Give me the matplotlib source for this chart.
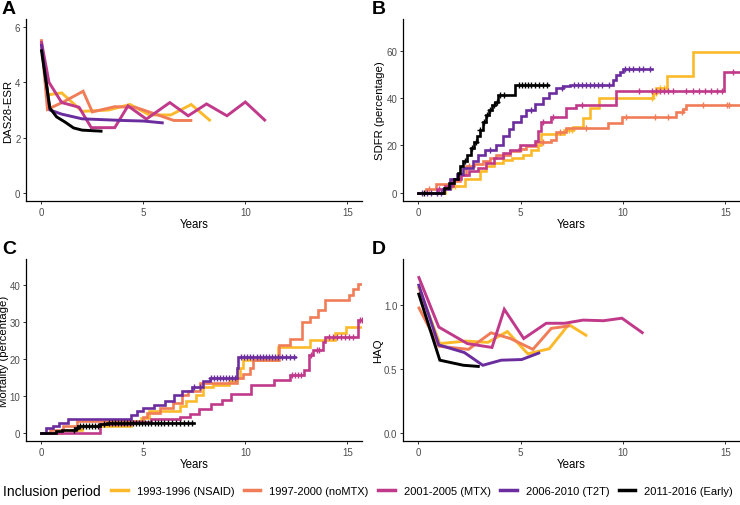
import numpy as np
import matplotlib
matplotlib.use("Agg")
import matplotlib.pyplot as plt
from matplotlib.lines import Line2D

plt.rcParams['font.family'] = ['Liberation Sans', 'DejaVu Sans']

periods = ["1993-1996 (NSAID)", "1997-2000 (noMTX)", "2001-2005 (MTX)",
           "2006-2010 (T2T)", "2011-2016 (Early)"]
colors = ["#FCBA2B", "#F07D57", "#C0398A", "#6B2C9E", "#000000"]

# ---------------- Panel A: DAS28-ESR ----------------
a_x_nsaid = [0, 0.33, 1.0, 2.0, 3.3, 4.35, 5.3, 6.35, 7.35, 8.3]
a_y_nsaid = [5.45, 3.55, 3.62, 2.95, 3.0, 3.2, 2.82, 2.82, 3.2, 2.6]
a_x_nomtx = [0, 0.3, 1.1, 2.05, 2.5, 3.6, 4.6, 5.4, 6.5, 7.4]
a_y_nomtx = [5.57, 3.02, 3.3, 3.68, 2.93, 3.12, 3.1, 2.9, 2.62, 2.62]
a_x_mtx = [0, 0.38, 1.0, 1.85, 2.45, 3.6, 4.25, 5.15, 6.3, 7.2, 8.1, 9.1, 10.0, 11.0]
a_y_mtx = [5.5, 4.0, 3.27, 3.1, 2.36, 2.36, 3.15, 2.67, 3.27, 2.79, 3.22, 2.79, 3.29, 2.6]
a_x_t2t = [0, 0.42, 1.0, 2.0, 3.0, 4.0, 5.0, 6.0]
a_y_t2t = [5.4, 3.0, 2.85, 2.68, 2.65, 2.62, 2.6, 2.53]
a_x_early = [0, 0.42, 0.75, 1.17, 1.58, 2.0, 3.0]
a_y_early = [5.2, 3.07, 2.75, 2.56, 2.35, 2.27, 2.23]

# ---------------- Panel B: SDFR (cumulative, percentage) ----------------
b_t_nsaid = [0, 1.3, 2.3, 3.0, 3.3, 3.7, 4.15, 4.6, 5.1, 5.5, 5.85, 6.0, 7.1, 7.55,
             8.05, 8.38, 8.85, 11.47, 11.63, 12.13, 13.43]
b_v_nsaid = [0, 2.8, 5.6, 9.1, 11.2, 12.6, 14.0, 14.7, 16.1, 18.2, 20.3, 24.8, 26.6,
             28.0, 31.5, 35.7, 39.9, 42.0, 44.1, 49.2, 59.5]
b_end_nsaid = 15.75
b_c_nsaid = [1.5, 1.65, 1.8, 7.35, 7.5, 11.4, 11.5, 11.6, 11.8, 12.0]

b_t_nomtx = [0, 0.39, 0.88, 1.6, 2.02, 2.35, 2.7, 3.16, 3.5, 3.81, 4.46, 4.9, 5.28,
             5.77, 6.5, 6.75, 7.24, 9.27, 9.93, 12.6, 12.94, 13.07]
b_v_nomtx = [0, 1.4, 3.5, 5.0, 7.7, 11.2, 12.0, 13.3, 14.7, 16.1, 17.5, 18.5, 19.6,
             21.4, 22.4, 25.5, 27.3, 29.4, 32.2, 34.3, 35.4, 37.3]
b_end_nomtx = 15.75
b_c_nomtx = [0.5, 2.5, 4.2, 5.0, 6.1, 6.9, 8.2, 10.14, 11.56, 12.2, 12.9, 13.9, 15.1, 15.2]

b_t_mtx = [0, 0.9, 1.3, 1.7, 2.1, 2.5, 2.9, 3.3, 3.7, 4.14, 4.5, 4.95, 5.69, 5.85,
           6.0, 6.5, 7.24, 7.72, 9.68, 14.95]
b_v_mtx = [0, 1.4, 3.0, 5.6, 7.5, 9.1, 10.5, 12.6, 14.7, 16.8, 18.2, 20.3, 22.0, 26.0,
           30.1, 32.2, 35.7, 37.3, 42.9, 51.1]
b_end_mtx = 15.75
b_c_mtx = [1.0, 6.1, 6.6, 8.0, 10.8, 11.4, 11.6, 11.8, 12.0, 12.2, 12.45, 13.1, 13.4,
           13.7, 14.0, 14.3, 14.6, 14.85, 15.4]

b_t_t2t = [0, 1.2, 1.53, 1.9, 2.2, 2.67, 2.9, 3.24, 3.81, 4.14, 4.45, 4.63, 5.0, 5.28,
           5.7, 6.09, 6.4, 6.75, 7.05, 7.4, 9.5, 9.68, 9.85, 10.0]
b_v_t2t = [0, 1.4, 5.6, 8.0, 10.5, 13.3, 16.0, 18.2, 20.3, 23.8, 27.0, 30.1, 32.5, 35.0,
           37.5, 39.9, 42.0, 44.3, 45.0, 45.7, 47.5, 49.6, 51.0, 52.2]
b_end_t2t = 11.4
b_c_t2t = [0.2, 0.4, 0.6, 0.9, 1.1, 3.5, 5.5, 7.0, 7.6, 7.8, 8.0, 8.2, 8.4, 8.6, 8.8,
           9.0, 9.3, 10.1, 10.3, 10.5, 10.8, 11.0, 11.3]

b_t_early = [0, 1.25, 1.5, 1.75, 1.95, 2.05, 2.2, 2.4, 2.55, 2.7, 2.85, 3.0, 3.15, 3.3,
             3.45, 3.6, 3.75, 3.9, 4.72]
b_v_early = [0, 2.0, 4.0, 6.0, 8.5, 11.2, 13.5, 16.0, 19.0, 21.5, 24.0, 26.5, 30.0,
             32.9, 35.0, 37.0, 38.5, 41.5, 45.7]
b_end_early = 6.35
b_c_early = [0.3, 2.3, 2.6, 2.8, 3.0, 3.2, 3.35, 3.5, 3.7, 3.85, 4.0, 4.2, 4.9, 5.05,
             5.2, 5.35, 5.5, 5.7, 5.9, 6.1, 6.3]

# ---------------- Panel C: Mortality (cumulative, percentage) ----------------
c_t_nsaid = [0, 1.0, 2.0, 4.4, 4.9, 5.3, 6.8, 7.1, 7.6, 7.95, 8.4, 9.2, 9.6, 9.75, 9.9,
             11.6, 13.15, 14.4, 14.95]
c_v_nsaid = [0, 0.8, 1.8, 2.7, 4.0, 5.8, 7.2, 8.5, 10.3, 12.5, 13.0, 14.0, 14.8, 17.5,
             19.7, 23.3, 25.1, 26.9, 28.7]
c_end_nsaid = 15.75
c_c_nsaid = []

c_t_nomtx = [0, 0.43, 1.08, 1.73, 5.0, 5.17, 5.82, 6.47, 6.88, 7.21, 7.78, 9.6, 9.9,
             10.23, 10.4, 11.65, 12.2, 12.8, 13.15, 13.55, 13.9, 15.1, 15.3, 15.5]
c_v_nomtx = [0, 0.9, 1.8, 3.3, 4.3, 5.4, 6.7, 8.1, 10.3, 11.4, 13.4, 14.8, 16.0, 17.5,
             19.7, 23.7, 25.5, 30.0, 31.4, 33.2, 35.9, 37.2, 39.0, 40.3]
c_end_nomtx = 15.75
c_c_nomtx = []

c_t_mtx = [0, 2.9, 4.4, 5.4, 6.8, 7.3, 7.75, 8.3, 8.85, 9.3, 10.3, 11.4, 12.2, 12.9,
           13.1, 13.3, 13.8, 13.9, 15.5]
c_v_mtx = [0, 2.3, 3.0, 3.7, 4.4, 5.1, 6.5, 7.9, 9.0, 10.5, 13.0, 14.3, 15.7, 17.0,
           21.0, 22.4, 24.5, 26.0, 30.5]
c_end_mtx = 15.75
c_c_mtx = [12.3, 12.45, 12.6, 12.75, 13.2, 13.5, 13.6, 14.1, 14.3, 14.5, 14.7, 14.9,
           15.1, 15.3, 15.6, 15.7]

c_t_t2t = [0, 0.25, 0.55, 0.85, 1.3, 4.4, 4.7, 5.0, 5.5, 6.05, 6.5, 6.9, 7.4, 7.95,
           8.25, 9.6, 9.65]
c_v_t2t = [0, 1.2, 1.8, 2.6, 3.85, 4.9, 5.8, 6.6, 7.6, 8.7, 10.2, 11.3, 12.4, 13.9,
           14.8, 17.5, 20.6]
c_end_t2t = 12.45
c_c_t2t = [7.5, 7.8, 8.3, 8.45, 8.6, 8.75, 8.9, 9.05, 9.2, 9.35, 9.5, 9.8, 9.95, 10.1,
           10.25, 10.4, 10.55, 10.7, 10.85, 11.0, 11.15, 11.3, 11.45, 11.6, 11.8, 12.0,
           12.2, 12.4]

c_t_early = [0, 0.7, 1.0, 1.65, 1.8, 2.9, 3.2]
c_v_early = [0, 0.6, 0.9, 1.4, 1.8, 2.3, 2.8]
c_end_early = 7.5
c_c_early = [1.6, 1.75, 1.9, 2.05, 2.2, 2.35, 2.5, 2.65, 2.8, 3.05, 3.3, 3.45, 3.6,
             3.75, 3.9, 4.05, 4.2, 4.35, 4.5, 4.65, 4.8, 4.95, 5.1, 5.25, 5.4, 5.55,
             5.7, 5.85, 6.0, 6.2, 6.4, 6.6, 6.8, 7.0, 7.2, 7.4]

# ---------------- Panel D: HAQ ----------------
d_x_nsaid = [0, 1.05, 2.3, 3.4, 4.35, 5.35, 6.4, 7.35, 8.25]
d_y_nsaid = [1.15, 0.70, 0.72, 0.71, 0.795, 0.62, 0.66, 0.85, 0.76]
d_x_nomtx = [0, 1.0, 2.45, 3.55, 4.5, 5.6, 6.5, 7.4]
d_y_nomtx = [0.99, 0.68, 0.655, 0.785, 0.74, 0.655, 0.82, 0.84]
d_x_mtx = [0, 1.0, 2.4, 3.6, 4.2, 5.15, 6.25, 7.15, 8.05, 9.05, 9.95, 11.0]
d_y_mtx = [1.23, 0.83, 0.70, 0.67, 0.97, 0.74, 0.86, 0.86, 0.885, 0.88, 0.90, 0.78]
d_x_t2t = [0, 1.0, 2.25, 3.15, 4.05, 5.05, 5.95]
d_y_t2t = [1.17, 0.69, 0.63, 0.53, 0.57, 0.575, 0.63]
d_x_early = [0, 1.05, 2.2, 3.0]
d_y_early = [1.10, 0.57, 0.53, 0.52]

x_ticks = [0, 5, 10, 15]

W, H = 740, 506
fig = plt.figure(figsize=(W / 100, H / 100), dpi=100)

def add_ax(l, t, r, b):
    return fig.add_axes([l / W, 1 - b / H, (r - l) / W, (b - t) / H])

axA = add_ax(26, 20, 362, 202)
axB = add_ax(403, 20, 740, 202)
axC = add_ax(26, 260, 362, 442)
axD = add_ax(403, 260, 740, 442)

LW = 2.1
tick_col = "#4D4D4D"

def style(ax, ylim, yticks, ylabels, ylabel):
    ax.set_xlim(-0.75, 15.72)
    ax.set_ylim(*ylim)
    ax.set_xticks(x_ticks)
    ax.set_xticklabels([str(v) for v in x_ticks])
    ax.set_yticks(yticks)
    ax.set_yticklabels(ylabels)
    for s in ["top", "right"]:
        ax.spines[s].set_visible(False)
    for s in ["left", "bottom"]:
        ax.spines[s].set_linewidth(0.9)
        ax.spines[s].set_color("black")
    ax.tick_params(axis="both", length=2.5, width=0.7, color="#333333",
                   labelsize=7, labelcolor=tick_col, pad=1.5)
    ax.set_xlabel("Years", fontsize=8.3, labelpad=1)
    ax.set_ylabel(ylabel, fontsize=8.2, labelpad=1)

# Panel A
for xs, ys, c in zip([a_x_nsaid, a_x_nomtx, a_x_mtx, a_x_t2t, a_x_early],
                     [a_y_nsaid, a_y_nomtx, a_y_mtx, a_y_t2t, a_y_early], colors):
    axA.plot(xs, ys, color=c, lw=LW, solid_joinstyle="miter", solid_capstyle="butt")
style(axA, (-0.3, 6.3), [0, 2, 4, 6], ["0", "2", "4", "6"], "DAS28-ESR")

# Panel D
for xs, ys, c in zip([d_x_nsaid, d_x_nomtx, d_x_mtx, d_x_t2t, d_x_early],
                     [d_y_nsaid, d_y_nomtx, d_y_mtx, d_y_t2t, d_y_early], colors):
    axD.plot(xs, ys, color=c, lw=LW, solid_joinstyle="miter", solid_capstyle="butt")
style(axD, (-0.065, 1.365), [0.0, 0.5, 1.0], ["0.0", "0.5", "1.0"], "HAQ")

def km(ax, t, v, end, cens, c):
    tt = list(t) + [end]
    vv = list(v) + [v[-1]]
    ax.step(tt, vv, where="post", color=c, lw=LW * 0.9, solid_joinstyle="miter")
    if cens:
        ta = np.asarray(t)
        va = np.asarray(v)
        ca = np.asarray(cens)
        idx = np.searchsorted(ta, ca, side="right") - 1
        ax.plot(ca, va[idx], linestyle="none", marker="+", ms=5, mew=1.0, color=c)

b_sets = [(b_t_nsaid, b_v_nsaid, b_end_nsaid, b_c_nsaid),
          (b_t_nomtx, b_v_nomtx, b_end_nomtx, b_c_nomtx),
          (b_t_mtx, b_v_mtx, b_end_mtx, b_c_mtx),
          (b_t_t2t, b_v_t2t, b_end_t2t, b_c_t2t),
          (b_t_early, b_v_early, b_end_early, b_c_early)]
for (t, v, e, cs), c in zip(b_sets, colors):
    km(axB, t, v, e, cs, c)
style(axB, (-3.5, 73.5), [0, 20, 40, 60], ["0", "20", "40", "60"], "SDFR (percentage)")

c_sets = [(c_t_nsaid, c_v_nsaid, c_end_nsaid, c_c_nsaid),
          (c_t_nomtx, c_v_nomtx, c_end_nomtx, c_c_nomtx),
          (c_t_mtx, c_v_mtx, c_end_mtx, c_c_mtx),
          (c_t_t2t, c_v_t2t, c_end_t2t, c_c_t2t),
          (c_t_early, c_v_early, c_end_early, c_c_early)]
for (t, v, e, cs), c in zip(c_sets, colors):
    km(axC, t, v, e, cs, c)
style(axC, (-2.2, 47.0), [0, 10, 20, 30, 40], ["0", "10", "20", "30", "40"],
      "Mortality (percentage)")
axC.yaxis.set_label_coords(-16.5 / 336, 0.5)

# Panel letters
for lab, (px, py) in zip("ABCD", [(2, 1), (372, 1), (2, 241), (372, 241)]):
    fig.text(px / W, 1 - py / H, lab, fontsize=14, fontweight="bold",
             ha="left", va="top")

# Legend
fig.text(3 / W, 1 - 492 / H, "Inclusion period", fontsize=10, ha="left", va="center")
handles = [Line2D([0], [0], color=c, lw=2.5) for c in colors]
fig.legend(handles, periods, loc="center left", ncol=5,
           bbox_to_anchor=(111 / W, 1 - 492 / H), frameon=False, fontsize=8,
           handlelength=1.5, handletextpad=0.8, columnspacing=0.85,
           borderaxespad=0, borderpad=0)

fig.savefig("out.png", dpi=100)
